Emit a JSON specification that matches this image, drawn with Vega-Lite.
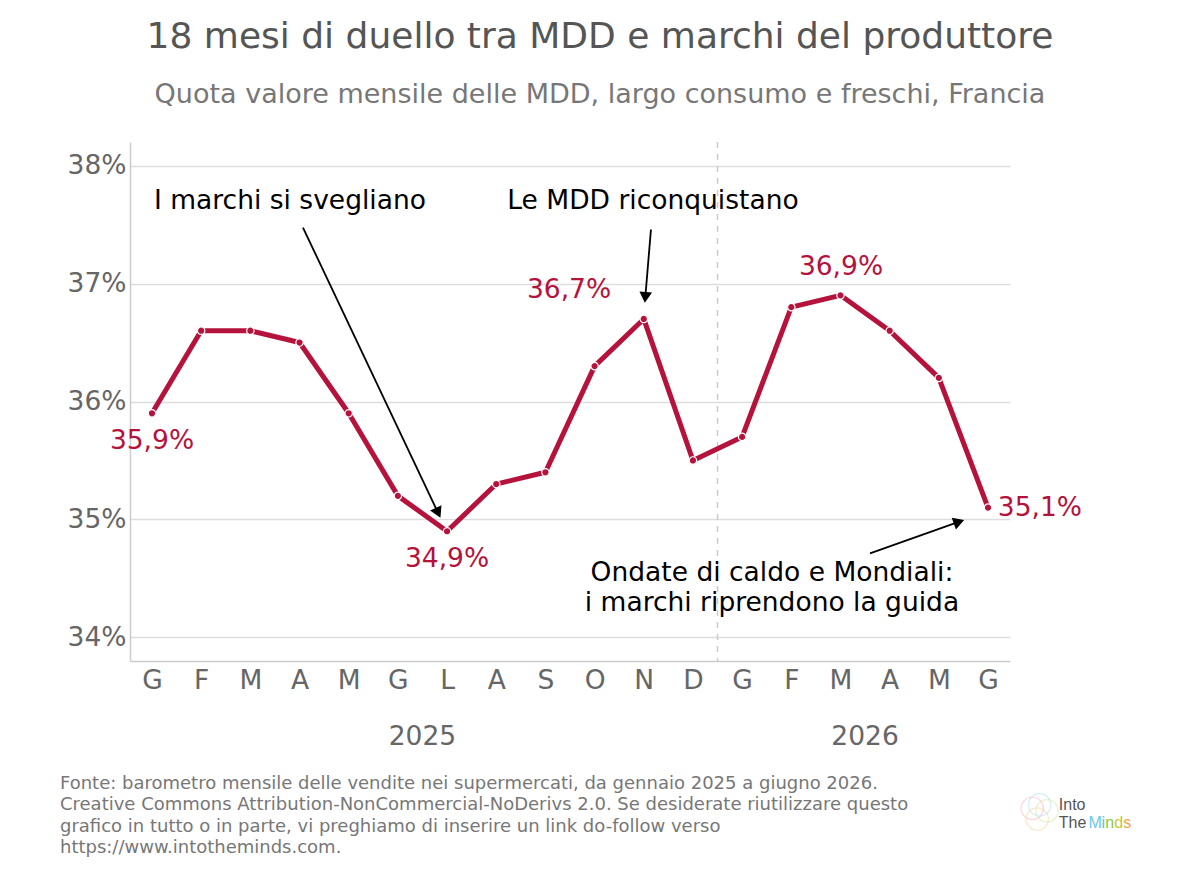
{
  "$schema": "https://vega.github.io/schema/vega-lite/v6.json",
  "description": "Quota valore mensile delle MDD in Francia, gennaio 2025 - giugno 2026",
  "autosize": {"type": "none"},
  "padding": {"top": 142, "left": 130, "right": 190, "bottom": 214},
  "width": 880,
  "height": 519,
  "background": "white",
  "title": {
    "text": "18 mesi di duello tra MDD e marchi del produttore",
    "subtitle": "Quota valore mensile delle MDD, largo consumo e freschi, Francia",
    "anchor": "middle",
    "dx": 30,
    "offset": 32,
    "subtitlePadding": 26
  },
  "config": {
    "font": "DejaVu Sans",
    "view": {"stroke": null},
    "title": {
      "font": "DejaVu Sans",
      "fontSize": 36,
      "fontWeight": "normal",
      "color": "#555555",
      "subtitleFont": "DejaVu Sans",
      "subtitleFontSize": 27,
      "subtitleColor": "#777777"
    },
    "axis": {"title": null},
    "text": {"font": "DejaVu Sans"}
  },
  "datasets": {
    "serie": [
      {"x": 0, "m": "G", "y": 35.9},
      {"x": 1, "m": "F", "y": 36.6},
      {"x": 2, "m": "M", "y": 36.6},
      {"x": 3, "m": "A", "y": 36.5},
      {"x": 4, "m": "M", "y": 35.9},
      {"x": 5, "m": "G", "y": 35.2},
      {"x": 6, "m": "L", "y": 34.9},
      {"x": 7, "m": "A", "y": 35.3},
      {"x": 8, "m": "S", "y": 35.4},
      {"x": 9, "m": "O", "y": 36.3},
      {"x": 10, "m": "N", "y": 36.7},
      {"x": 11, "m": "D", "y": 35.5},
      {"x": 12, "m": "G", "y": 35.7},
      {"x": 13, "m": "F", "y": 36.8},
      {"x": 14, "m": "M", "y": 36.9},
      {"x": 15, "m": "A", "y": 36.6},
      {"x": 16, "m": "M", "y": 36.2},
      {"x": 17, "m": "G", "y": 35.1}
    ],
    "frecce": [
      {"x": 3.07, "y": 37.475, "x2": 5.802, "y2": 35.07, "a": 154.6},
      {"x": 10.146, "y": 37.458, "x2": 10.034, "y2": 36.898, "a": 184.8},
      {"x": 14.6, "y": 34.712, "x2": 16.375, "y2": 34.975, "a": 70.5}
    ],
    "note": [
      {"x": 2.806, "y": 37.72, "t": "I marchi si svegliano"},
      {"x": 10.187, "y": 37.72, "t": "Le MDD riconquistano"},
      {"x": 12.607, "y": 34.562, "t": "Ondate di caldo e Mondiali:"},
      {"x": 12.607, "y": 34.308, "t": "i marchi riprendono la guida"}
    ],
    "etichette": [
      {"x": 0, "y": 35.68, "t": "35,9%"},
      {"x": 6.0, "y": 34.68, "t": "34,9%"},
      {"x": 8.48, "y": 36.96, "t": "36,7%"},
      {"x": 14.01, "y": 37.153, "t": "36,9%"}
    ],
    "anni": [
      {"x": 5.5, "y": 33.169, "t": "2025"},
      {"x": 14.5, "y": 33.169, "t": "2026"}
    ],
    "fonte": [
      {"x": -1.871, "y": 32.78, "t": "Fonte: barometro mensile delle vendite nei supermercati, da gennaio 2025 a giugno 2026."},
      {"x": -1.871, "y": 32.602, "t": "Creative Commons Attribution-NonCommercial-NoDerivs 2.0. Se desiderate riutilizzare questo"},
      {"x": -1.871, "y": 32.415, "t": "grafico in tutto o in parte, vi preghiamo di inserire un link do-follow verso"},
      {"x": -1.871, "y": 32.237, "t": "https://www.intotheminds.com."}
    ],
    "logo": [
      {"x": 18.44, "y": 32.576, "t": "Into"},
      {"x": 18.44, "y": 32.424, "t": "The"},
      {"x": 19.045, "y": 32.424, "t": "M"},
      {"x": 19.31, "y": 32.424, "t": "i"},
      {"x": 19.385, "y": 32.424, "t": "n"},
      {"x": 19.566, "y": 32.424, "t": "d"},
      {"x": 19.75, "y": 32.424, "t": "s"}
    ],
    "cervello": [
      {"x": 17.9, "y": 32.55, "c": "a"},
      {"x": 18.05, "y": 32.58, "c": "b"},
      {"x": 18.2, "y": 32.53, "c": "c"},
      {"x": 18.0, "y": 32.46, "c": "d"}
    ]
  },
  "layer": [
    {
      "data": {"values": [{"x": 11.5}]},
      "mark": {"type": "rule", "color": "#cccccc", "strokeWidth": 1.5, "strokeDash": [6, 6]},
      "encoding": {
        "x": {"field": "x", "type": "quantitative", "scale": {"domain": [-0.447, 17.447], "nice": false, "zero": false}}
      }
    },
    {
      "data": {"name": "serie"},
      "mark": {"type": "line", "color": "#b5123c", "strokeWidth": 5, "strokeJoin": "round"},
      "encoding": {
        "x": {
          "field": "x", "type": "quantitative",
          "scale": {"domain": [-0.447, 17.447], "nice": false, "zero": false},
          "axis": {
            "title": null,
            "values": [0, 1, 2, 3, 4, 5, 6, 7, 8, 9, 10, 11, 12, 13, 14, 15, 16, 17],
            "labelExpr": "['G','F','M','A','M','G','L','A','S','O','N','D','G','F','M','A','M','G'][datum.value]",
            "grid": false,
            "ticks": false,
            "domainColor": "#cccccc",
            "domainWidth": 1.5,
            "labelFontSize": 26.5,
            "labelColor": "#666666",
            "labelPadding": 6,
            "labelFont": "DejaVu Sans",
            "labelOverlap": false
          }
        },
        "y": {
          "field": "y", "type": "quantitative",
          "scale": {"domain": [33.8, 38.2], "nice": false, "zero": false},
          "axis": {
            "title": null,
            "values": [34, 35, 36, 37, 38],
            "labelExpr": "datum.value + '%'",
            "grid": true,
            "gridColor": "#dddddd",
            "gridWidth": 1.5,
            "ticks": false,
            "domainColor": "#cccccc",
            "domainWidth": 1.5,
            "labelFontSize": 26.5,
            "labelColor": "#666666",
            "labelPadding": 4,
            "labelFont": "DejaVu Sans"
          }
        }
      }
    },
    {
      "data": {"name": "serie"},
      "mark": {"type": "point", "filled": true, "color": "#b5123c", "stroke": "white", "strokeWidth": 1.2, "size": 55, "opacity": 1},
      "encoding": {
        "x": {"field": "x", "type": "quantitative", "scale": {"domain": [-0.447, 17.447], "nice": false, "zero": false}},
        "y": {"field": "y", "type": "quantitative", "scale": {"domain": [33.8, 38.2], "nice": false, "zero": false}}
      }
    },
    {
      "data": {"name": "frecce"},
      "mark": {"type": "rule", "color": "black", "strokeWidth": 1.8},
      "encoding": {
        "x": {"field": "x", "type": "quantitative", "scale": {"domain": [-0.447, 17.447], "nice": false, "zero": false}},
        "y": {"field": "y", "type": "quantitative", "scale": {"domain": [33.8, 38.2], "nice": false, "zero": false}},
        "x2": {"field": "x2"},
        "y2": {"field": "y2"}
      }
    },
    {
      "data": {"name": "frecce"},
      "mark": {"type": "point", "shape": "triangle", "filled": true, "color": "black", "size": 160, "opacity": 1},
      "encoding": {
        "x": {"field": "x2", "type": "quantitative", "scale": {"domain": [-0.447, 17.447], "nice": false, "zero": false}},
        "y": {"field": "y2", "type": "quantitative", "scale": {"domain": [33.8, 38.2], "nice": false, "zero": false}},
        "angle": {"field": "a", "type": "quantitative", "scale": null}
      }
    },
    {
      "data": {"name": "note"},
      "mark": {"type": "text", "fontSize": 26.5, "color": "black", "align": "center", "baseline": "middle", "dy": 2},
      "encoding": {
        "x": {"field": "x", "type": "quantitative", "scale": {"domain": [-0.447, 17.447], "nice": false, "zero": false}},
        "y": {"field": "y", "type": "quantitative", "scale": {"domain": [33.8, 38.2], "nice": false, "zero": false}},
        "text": {"field": "t"}
      }
    },
    {
      "data": {"name": "etichette"},
      "mark": {"type": "text", "fontSize": 26.5, "color": "#b5123c", "align": "center", "baseline": "middle", "dy": 2},
      "encoding": {
        "x": {"field": "x", "type": "quantitative", "scale": {"domain": [-0.447, 17.447], "nice": false, "zero": false}},
        "y": {"field": "y", "type": "quantitative", "scale": {"domain": [33.8, 38.2], "nice": false, "zero": false}},
        "text": {"field": "t"}
      }
    },
    {
      "data": {"values": [{"x": 17.2, "y": 35.11, "t": "35,1%"}]},
      "mark": {"type": "text", "fontSize": 26.5, "color": "#b5123c", "align": "left", "baseline": "middle", "dy": 2},
      "encoding": {
        "x": {"field": "x", "type": "quantitative", "scale": {"domain": [-0.447, 17.447], "nice": false, "zero": false}},
        "y": {"field": "y", "type": "quantitative", "scale": {"domain": [33.8, 38.2], "nice": false, "zero": false}},
        "text": {"field": "t"}
      }
    },
    {
      "data": {"name": "anni"},
      "mark": {"type": "text", "fontSize": 26.5, "color": "#666666", "align": "center", "baseline": "middle", "dy": 2},
      "encoding": {
        "x": {"field": "x", "type": "quantitative", "scale": {"domain": [-0.447, 17.447], "nice": false, "zero": false}},
        "y": {"field": "y", "type": "quantitative", "scale": {"domain": [33.8, 38.2], "nice": false, "zero": false}},
        "text": {"field": "t"}
      }
    },
    {
      "data": {"name": "fonte"},
      "mark": {"type": "text", "fontSize": 18, "color": "#777777", "align": "left", "baseline": "middle", "dy": 3},
      "encoding": {
        "x": {"field": "x", "type": "quantitative", "scale": {"domain": [-0.447, 17.447], "nice": false, "zero": false}},
        "y": {"field": "y", "type": "quantitative", "scale": {"domain": [33.8, 38.2], "nice": false, "zero": false}},
        "text": {"field": "t"}
      }
    },
    {
      "data": {"name": "cervello"},
      "mark": {"type": "point", "shape": "circle", "filled": false, "size": 500, "strokeWidth": 1.2, "opacity": 0.45},
      "encoding": {
        "x": {"field": "x", "type": "quantitative", "scale": {"domain": [-0.447, 17.447], "nice": false, "zero": false}},
        "y": {"field": "y", "type": "quantitative", "scale": {"domain": [33.8, 38.2], "nice": false, "zero": false}},
        "color": {
          "field": "c", "type": "nominal", "legend": null,
          "scale": {"domain": ["a", "b", "c", "d"], "range": ["#f2a7c8", "#a7d8f0", "#c9e59a", "#f7d08a"]}
        }
      }
    },
    {
      "data": {"name": "logo"},
      "mark": {"type": "text", "fontSize": 16, "font": "Liberation Sans", "align": "left", "baseline": "middle"},
      "encoding": {
        "x": {"field": "x", "type": "quantitative", "scale": {"domain": [-0.447, 17.447], "nice": false, "zero": false}},
        "y": {"field": "y", "type": "quantitative", "scale": {"domain": [33.8, 38.2], "nice": false, "zero": false}},
        "text": {"field": "t"},
        "fill": {
          "field": "t", "type": "nominal", "legend": null,
          "scale": {"domain": ["Into", "The", "M", "i", "n", "d", "s"], "range": ["#555555", "#555555", "#6ec6ea", "#5cc6c0", "#8cc63f", "#c5c93a", "#f5a142"]}
        }
      }
    }
  ]
}
